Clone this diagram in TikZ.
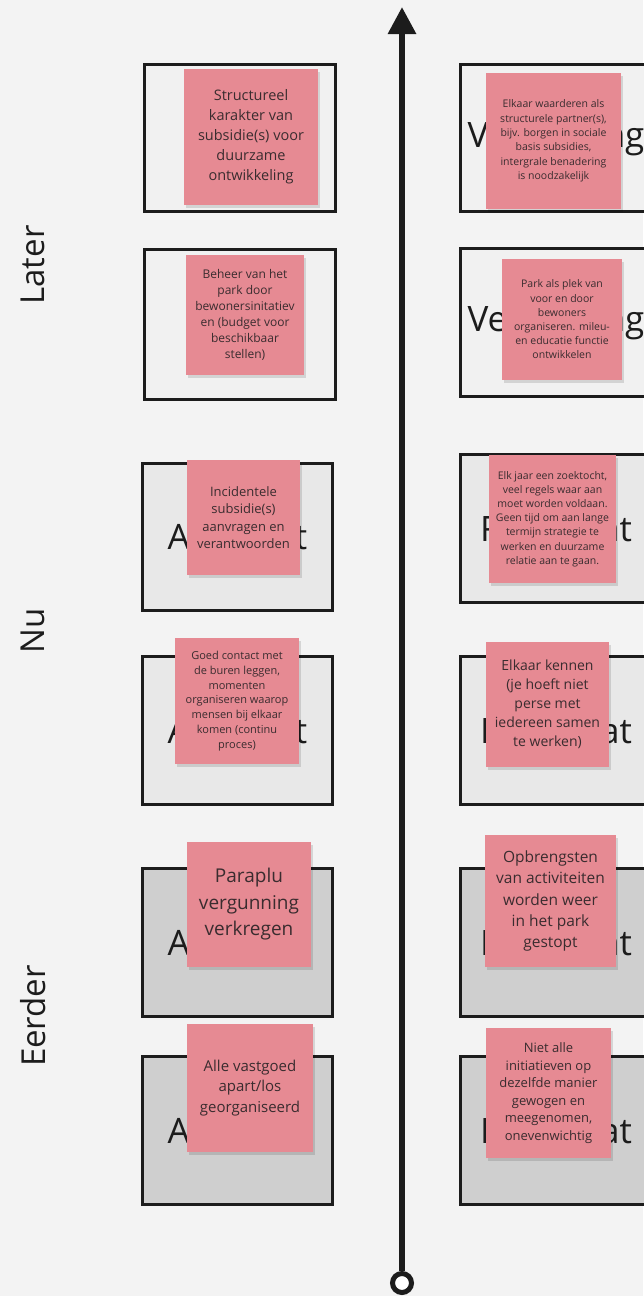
\documentclass[tikz,border=0pt]{standalone}
\usepackage{fontspec}
\setmainfont{Open Sans}
\usetikzlibrary{arrows.meta,shadows}
\definecolor{pagebg}{HTML}{F3F3F3}
\definecolor{ink}{HTML}{1C1C1C}
\definecolor{notetext}{HTML}{3A2C2F}
\definecolor{notepink}{HTML}{E68A93}
\definecolor{laterfill}{HTML}{F1F1F1}
\definecolor{nowfill}{HTML}{E8E8E8}
\definecolor{earlyfill}{HTML}{CFCFCF}
\tikzset{
  x=1pt, y=-1pt,
  frame/.style={draw=ink, line width=3pt, inner sep=0pt, text=ink,
    font=\fontsize{35}{40}\selectfont},
  laterbox/.style={frame, fill=laterfill},
  nowbox/.style={frame, fill=nowfill},
  earlybox/.style={frame, fill=earlyfill},
  sticky/.style={fill=notepink, draw=none, text=notetext, align=center,
    inner sep=2pt,
    drop shadow={shadow xshift=1.5pt, shadow yshift=-2.5pt, opacity=0.12, fill=black}},
  phase/.style={rotate=90, text=ink, font=\fontsize{33}{38}\selectfont}
}
\begin{document}
\begin{tikzpicture}
\fill[pagebg] (0,0) rectangle (643,1296);
\useasboundingbox (0,0) rectangle (643,1296);

% time axis
\coordinate (axtop) at (402,7);
\node[circle, draw=ink, fill=white, line width=5pt, minimum size=19pt, inner sep=0pt] (axbot) at (402,1283) {};
\draw[ink, line width=6pt, -{Triangle[length=27pt,width=27pt]}] (axbot.north) -- (axtop);

% phase labels
\node[phase] (later) at (33,265) {Later};
\node[phase] (nu) at (33,631) {Nu};
\node[phase] (eerder) at (33,1016) {Eerder};

% frames
\node[laterbox, minimum width=191pt, minimum height=147pt] (b1l) at (240,138) {};
\node[laterbox, minimum width=191pt, minimum height=147pt] (b1r) at (556,138) {Verbinding};
\node[laterbox, minimum width=191pt, minimum height=150pt] (b2l) at (240,324.5) {};
\node[laterbox, minimum width=191pt, minimum height=148pt] (b2r) at (556,322.5) {Verbinding};
\node[nowbox, minimum width=190pt, minimum height=147pt] (b3l) at (237.5,537) {Activiteit};
\node[nowbox, minimum width=191pt, minimum height=148pt] (b3r) at (556,528.5) {Resultaat};
\node[nowbox, minimum width=190pt, minimum height=148pt] (b4l) at (237.5,730.5) {Activiteit};
\node[nowbox, minimum width=191pt, minimum height=148pt] (b4r) at (556,730.5) {Resultaat};
\node[earlybox, minimum width=190pt, minimum height=148pt] (b5l) at (237.5,942.5) {Activiteit};
\node[earlybox, minimum width=191pt, minimum height=148pt] (b5r) at (556,942.5) {Resultaat};
\node[earlybox, minimum width=190pt, minimum height=148pt] (b6l) at (237.5,1130.5) {Activiteit};
\node[earlybox, minimum width=191pt, minimum height=148pt] (b6r) at (556,1130.5) {Resultaat};

% sticky notes
\node[sticky, minimum width=134pt, minimum height=136pt, font=\fontsize{14.5}{20}\selectfont] (s1l) at (251,137)
  {Structureel\\karakter van\\subsidie(s) voor\\duurzame\\ontwikkeling};
\node[sticky, minimum width=135pt, minimum height=136pt, font=\fontsize{10.5}{14.3}\selectfont] (s1r) at (553.5,141)
  {Elkaar waarderen als\\structurele partner(s),\\bijv. borgen in sociale\\basis subsidies,\\intergrale benadering\\is noodzakelijk};
\node[sticky, minimum width=118pt, minimum height=120pt, font=\fontsize{12}{16}\selectfont] (s2l) at (245,315)
  {Beheer van het\\park door\\bewonersinitatiev\\en (budget voor\\beschikbaar\\stellen)};
\node[sticky, minimum width=120pt, minimum height=121pt, font=\fontsize{10.5}{14.2}\selectfont] (s2r) at (562,319.5)
  {Park als plek van\\voor en door\\bewoners\\organiseren. mileu-\\en educatie functie\\ontwikkelen};
\node[sticky, minimum width=113pt, minimum height=115pt, font=\fontsize{13}{17.5}\selectfont] (s3l) at (243.5,517.5)
  {Incidentele\\subsidie(s)\\aanvragen en\\verantwoorden};
\node[sticky, minimum width=127pt, minimum height=128pt, font=\fontsize{10.5}{14.2}\selectfont] (s3r) at (552.5,519)
  {Elk jaar een zoektocht,\\veel regels waar aan\\moet worden voldaan.\\Geen tijd om aan lange\\termijn strategie te\\werken en duurzame\\relatie aan te gaan.};
\node[sticky, minimum width=124pt, minimum height=126pt, font=\fontsize{11}{14.8}\selectfont] (s4l) at (237,701)
  {Goed contact met\\de buren leggen,\\momenten\\organiseren waarop\\mensen bij elkaar\\komen (continu\\proces)};
\node[sticky, minimum width=123pt, minimum height=125pt, font=\fontsize{14}{19}\selectfont] (s4r) at (547.5,704.5)
  {Elkaar kennen\\(je hoeft niet\\perse met\\iedereen samen\\te werken)};
\node[sticky, minimum width=124pt, minimum height=125pt, font=\fontsize{19}{26.5}\selectfont] (s5l) at (249,904.5)
  {Paraplu\\vergunning\\verkregen};
\node[sticky, minimum width=131pt, minimum height=132pt, font=\fontsize{15.5}{21.3}\selectfont] (s5r) at (550.5,901)
  {Opbrengsten\\van activiteiten\\worden weer\\in het park\\gestopt};
\node[sticky, minimum width=126pt, minimum height=128pt, font=\fontsize{15}{20.6}\selectfont] (s6l) at (250,1088)
  {Alle vastgoed\\apart/los\\georganiseerd};
\node[sticky, minimum width=125pt, minimum height=130pt, font=\fontsize{13}{17.5}\selectfont] (s6r) at (548.5,1093)
  {Niet alle\\initiatieven op\\dezelfde manier\\gewogen en\\meegenomen,\\onevenwichtig};
\end{tikzpicture}
\end{document}
